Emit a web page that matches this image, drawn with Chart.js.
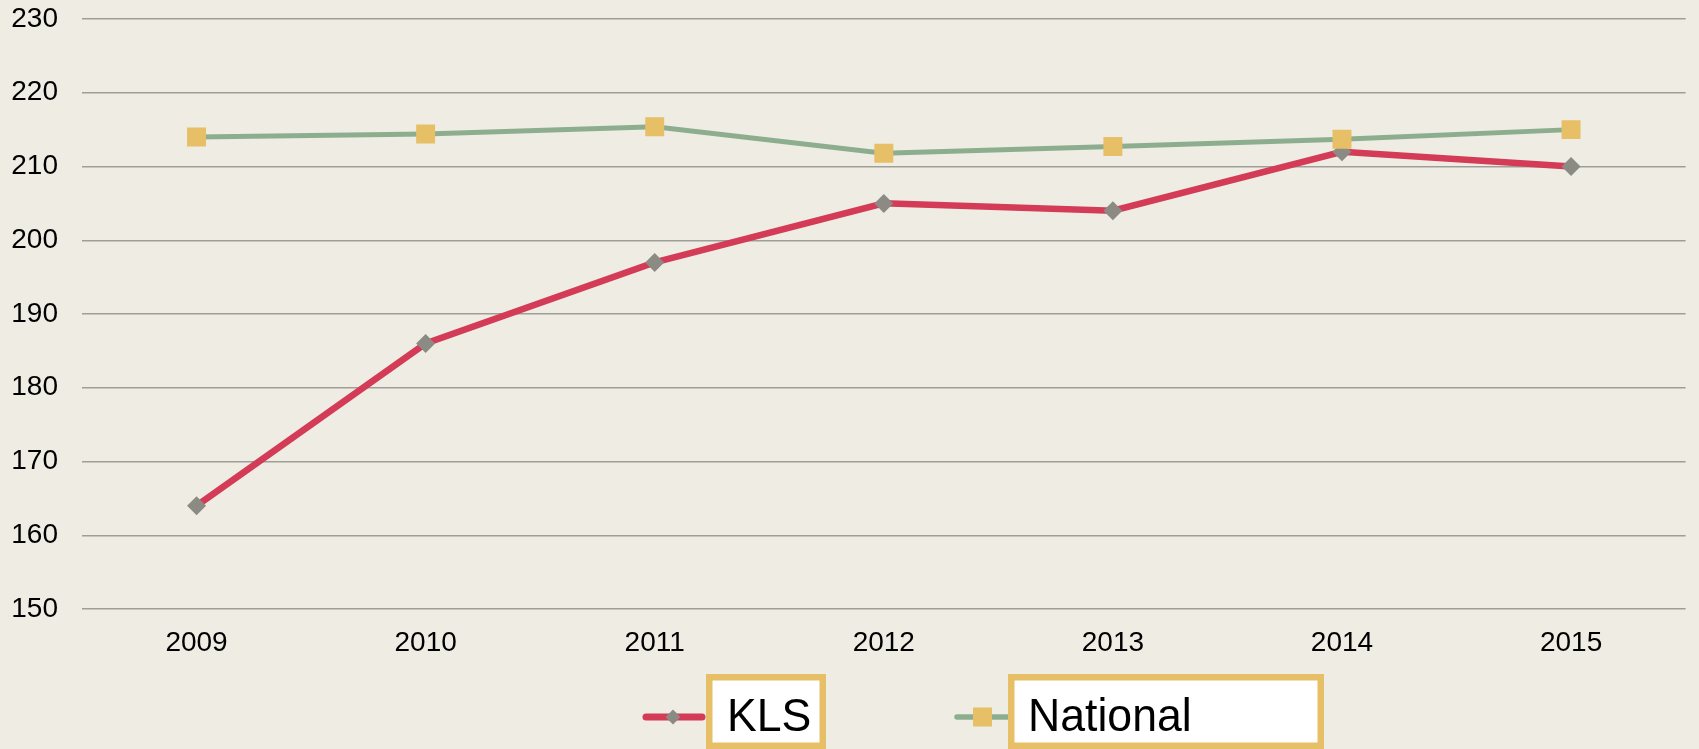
<!DOCTYPE html>
<html>
<head>
<meta charset="utf-8">
<script src="https://cdn.jsdelivr.net/npm/chart.js"></script>
<style>
  body { margin: 0; background: #efece4; }
  #wrap { width: 1699px; height: 749px; }
</style>
</head>
<body>
<div id="wrap"><canvas id="chart"></canvas></div>
<script>
const years = ['2009', '2010', '2011', '2012', '2013', '2014', '2015'];
const klsScores = [164, 186, 197, 205, 204, 212, 210];
const nationalScores = [214, 214.4, 215.4, 211.8, 212.7, 213.7, 215];
const yMin = 150;
const yMax = 230;
const yStep = 10;

const bgColor = '#efece4';
const red = '#d33b56';
const green = '#8dae8e';
const gold = '#e6bf66';
const grey = '#8b8b84';

// paint the beige background under everything
const background = {
  id: 'background',
  beforeDraw(chart) {
    const ctx = chart.ctx;
    ctx.save();
    ctx.fillStyle = bgColor;
    ctx.fillRect(0, 0, chart.width, chart.height);
    ctx.restore();
  }
};

// legend with the labels sitting in gold framed white boxes
const boxLegend = {
  id: 'boxLegend',
  afterDraw(chart) {
    const ctx = chart.ctx;
    const ds = chart.data.datasets;
    const items = [
      { d: ds[0], x0: 646, x1: 702, mark: 673, box: 706, boxW: 120, text: 727, lw: 7 },
      { d: ds[1], x0: 957, x1: 1008, mark: 982.5, box: 1008, boxW: 316, text: 1028, lw: 5.5 }
    ];
    const y = 717;
    ctx.save();
    items.forEach(it => {
      // sample line
      ctx.strokeStyle = it.d.borderColor;
      ctx.lineWidth = it.lw;
      ctx.lineCap = 'round';
      ctx.beginPath();
      ctx.moveTo(it.x0, y);
      ctx.lineTo(it.x1, y);
      ctx.stroke();
      // marker
      ctx.fillStyle = it.d.pointBackgroundColor;
      ctx.beginPath();
      if (it.d.pointStyle === 'rectRot') {
        ctx.moveTo(it.mark, y - 7.5);
        ctx.lineTo(it.mark + 7.5, y);
        ctx.lineTo(it.mark, y + 7.5);
        ctx.lineTo(it.mark - 7.5, y);
        ctx.closePath();
        ctx.fill();
      } else {
        ctx.fillRect(it.mark - 9.5, y - 9.5, 19, 19);
      }
      // box
      ctx.fillStyle = '#ffffff';
      ctx.fillRect(it.box, 674, it.boxW, 76);
      ctx.strokeStyle = gold;
      ctx.lineWidth = 6.5;
      ctx.lineCap = 'butt';
      ctx.strokeRect(it.box + 3.25, 677.25, it.boxW - 6.5, 68.5);
      // label
      ctx.fillStyle = '#000000';
      ctx.font = '46px "Liberation Sans", Arial, sans-serif';
      ctx.textBaseline = 'alphabetic';
      ctx.save();
      ctx.translate(it.text, 730.5);
      ctx.scale(0.97, 1);
      ctx.fillText(it.d.label, 0, 0);
      ctx.restore();
    });
    ctx.restore();
  }
};

const tickFont = { family: '"Liberation Sans", Arial, sans-serif', size: 28 };

new Chart(document.getElementById('chart'), {
  type: 'line',
  data: {
    labels: years,
    datasets: [
      {
        label: 'KLS',
        data: klsScores,
        borderColor: red,
        backgroundColor: red,
        borderWidth: 6.5,
        pointStyle: 'rectRot',
        pointRadius: 9.5,
        pointBorderWidth: 0,
        pointBackgroundColor: grey,
        pointBorderColor: grey,
        tension: 0,
        order: 1
      },
      {
        label: 'National',
        data: nationalScores,
        borderColor: green,
        backgroundColor: green,
        borderWidth: 5,
        pointStyle: 'rect',
        pointRadius: 13.4,
        pointBorderWidth: 0,
        pointBackgroundColor: gold,
        pointBorderColor: gold,
        tension: 0,
        order: 0
      }
    ]
  },
  options: {
    responsive: true,
    maintainAspectRatio: false,
    animation: false,
    layout: { padding: { top: 19, left: 12, right: 6, bottom: 80 } },
    scales: {
      x: {
        offset: true,
        grid: { display: false, drawTicks: false },
        border: { display: false },
        ticks: { color: '#000000', font: tickFont, padding: 17, maxRotation: 0 },
        afterFit(scale) { scale.height = 60; }
      },
      y: {
        min: yMin,
        max: yMax,
        grid: { color: '#9f9e98', lineWidth: 1.5, drawTicks: true, tickLength: 24, tickColor: 'rgba(0,0,0,0)' },
        border: { display: false },
        ticks: { stepSize: yStep, color: '#000000', font: tickFont, padding: 0 },
        afterFit(scale) { scale.width = 70; }
      }
    },
    plugins: {
      legend: { display: false },
      tooltip: { enabled: false }
    }
  },
  plugins: [background, boxLegend]
});
</script>
</body>
</html>
